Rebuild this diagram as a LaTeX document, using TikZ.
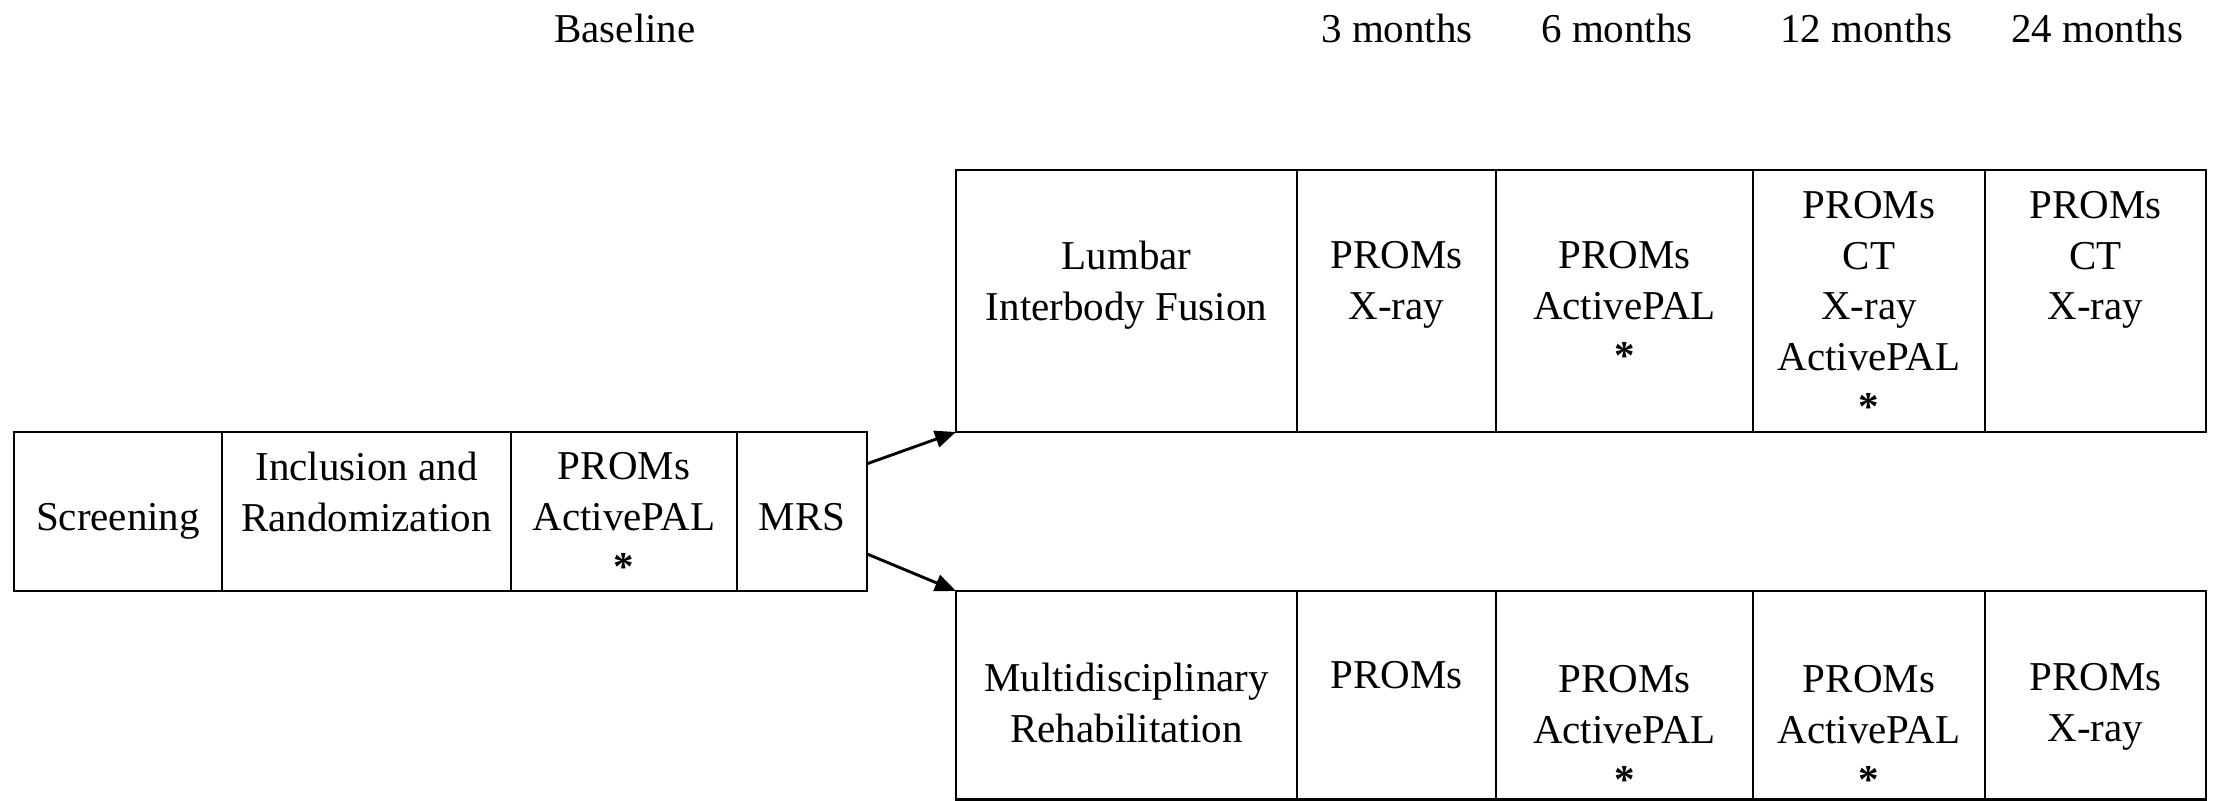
\documentclass[tikz,border=0pt]{standalone}
\usepackage{fontspec}
\setmainfont{Liberation Serif}
\usetikzlibrary{fit,calc,arrows.meta}
\newcommand{\myast}{\textbf{*}}
\begin{document}
\begin{tikzpicture}[x=0.5pt,y=-0.5pt,
  cell/.style={draw, line width=1.45pt, inner sep=0pt, outer sep=0pt},
  txt/.style={anchor=north, inner sep=0pt, align=center, font=\fontsize{20.5}{25.25}\selectfont},
  arr/.style={line width=1.45pt, -{Triangle[length=10.5pt,width=8.5pt]}}]
\useasboundingbox (0,0) rectangle (2213,801);

% header
\node[txt] (hb)  at (625,14)  {Baseline};
\node[txt] (h3)  at (1397,14) {3 months};
\node[txt] (h6)  at (1617,14) {6 months};
\node[txt] (h12) at (1866,14) {12 months};
\node[txt] (h24) at (2097,14) {24 months};

% left group
\node[cell, fit={(14,432) (222,591)}] (scr) {};
\node[cell, fit={(222,432) (511,591)}] (inc) {};
\node[cell, fit={(511,432) (737,591)}] (bpr) {};
\node[cell, fit={(737,432) (867,591)}] (mrs) {};
\node[txt] (scrt) at (118,503) {Screening};
\node[txt] (inct) at (366.5,452) {Inclusion and\\Randomization};
\node[txt] (bprt) at (624,452) {PROMs\\ActivePAL\\\myast};
\node[txt] (mrst) at (802,503) {MRS};

% top row
\node[cell, fit={(956,170) (1297,432)}] (t1) {};
\node[cell, fit={(1297,170) (1496,432)}] (t2) {};
\node[cell, fit={(1496,170) (1753,432)}] (t3) {};
\node[cell, fit={(1753,170) (1985,432)}] (t4) {};
\node[cell, fit={(1985,170) (2206,432)}] (t5) {};
\node[txt] (t1t) at (1126.5,241) {Lumbar\\Interbody Fusion};
\node[txt] (t2t) at (1396.5,241) {PROMs\\X-ray};
\node[txt] (t3t) at (1624.5,241) {PROMs\\ActivePAL\\\myast};
\node[txt] (t4t) at (1869,191) {PROMs\\CT\\X-ray\\ActivePAL\\\myast};
\node[txt] (t5t) at (2095.5,191) {PROMs\\CT\\X-ray};

% bottom row
\node[cell, fit={(956,591) (1297,799.5)}] (b1) {};
\node[cell, fit={(1297,591) (1496,799.5)}] (b2) {};
\node[cell, fit={(1496,591) (1753,799.5)}] (b3) {};
\node[cell, fit={(1753,591) (1985,799.5)}] (b4) {};
\node[cell, fit={(1985,591) (2206,799.5)}] (b5) {};
\node[txt] (b1t) at (1126.5,663) {Multidisciplinary\\Rehabilitation};
\node[txt] (b2t) at (1396.5,661) {PROMs};
\node[txt] (b3t) at (1624.5,665) {PROMs\\ActivePAL\\\myast};
\node[txt] (b4t) at (1869,665) {PROMs\\ActivePAL\\\myast};
\node[txt] (b5t) at (2095.5,663) {PROMs\\X-ray};

% arrows
\draw[arr] ($(mrs.north east)!0.2!(mrs.south east)$) -- (t1.south west);
\draw[arr] ($(mrs.north east)!0.767!(mrs.south east)$) -- (b1.north west);
\end{tikzpicture}
\end{document}
